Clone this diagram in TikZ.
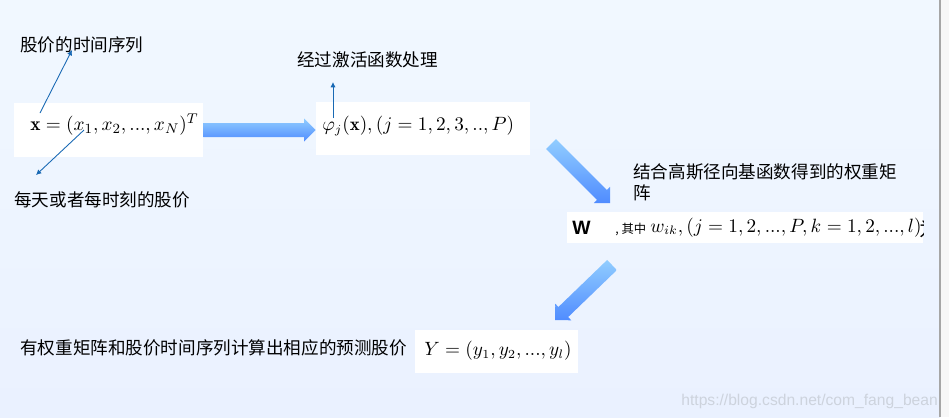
\documentclass[tikz,border=0pt]{standalone}
\usepackage{fontspec}
\usepackage{amsmath}
\usepackage{tikz}
\usetikzlibrary{arrows.meta, positioning, calc}
\newfontfamily\cjk{Noto Sans CJK SC}
\newfontfamily\arialf{Liberation Sans}
\definecolor{bgtop}{RGB}{241,248,255}
\definecolor{bgbot}{RGB}{234,241,255}
\definecolor{fatlight}{RGB}{145,205,255}
\definecolor{fatdark}{RGB}{80,140,255}
\definecolor{ptrblue}{RGB}{25,105,180}
\definecolor{markgray}{RGB}{205,211,221}
\tikzset{
  formbox/.style={rectangle, fill=white, inner sep=0pt},
  cnlabel/.style={font=\cjk\fontsize{10}{12}\selectfont, inner sep=0pt,
    anchor=west, align=left},
  formula/.style={font=\fontsize{10.7}{13}\selectfont, inner sep=0pt, anchor=west},
  ptr/.style={-{Latex[length=3pt,width=3pt]}, color=ptrblue, line width=0.5pt},
  fatshade/.style={top color=fatlight, bottom color=fatdark}
}
\newcommand{\fatarrow}[2]{% from, to
  \coordinate (fa-n) at ($(#2)!0.23cm!(#1)$);
  \shade[fatshade]
    ($(#1)!0.14cm!90:(#2)$) -- ($(fa-n)!0.14cm!90:(#2)$) -- ($(fa-n)!0.23cm!90:(#2)$)
    -- (#2) -- ($(fa-n)!0.23cm!-90:(#2)$) -- ($(fa-n)!0.14cm!-90:(#2)$)
    -- ($(#1)!0.14cm!-90:(#2)$) -- cycle;
}

\begin{document}
\begin{tikzpicture}[x=0.02cm, y=-0.02cm]
  \useasboundingbox (0,0) rectangle (949,417);
  % background
  \shade[top color=bgtop, bottom color=bgbot] (0,0) rectangle (940,417);
  \fill[gray!6] (940,0) rectangle (949,417);
  \draw[gray!70, line width=0.6pt] (940,0) -- (940,417);

  % formula boxes
  \node[formbox, minimum width=3.78cm, minimum height=1.08cm] (seq) at (108.5,130) {};
  \node[formula, font=\fontsize{11}{13}\selectfont] (seqf) at (30,125) {$\mathbf{x}=(x_1,x_2,...,x_N)^T$};
  \node[formbox, minimum width=4.28cm, minimum height=1.06cm] (act) at (423,128.5) {};
  \node[formula] (actf) at (322,126) {$\varphi_j(\mathbf{x}),(j=1,2,3,..,P)$};
  \node[formbox, minimum width=7.12cm, minimum height=0.62cm] (wgt) at (745,227.5) {};
  \node[font=\arialf\bfseries\fontsize{11}{12}\selectfont, inner sep=0pt,
    anchor=west] (wsym) at (572,228) {W};
  \node[font=\cjk\fontsize{7}{8}\selectfont, inner sep=0pt,
    anchor=base west] (wnote) at (615,233) {, 其中};
  \node[formula, anchor=base west] (wgtf) at (650,232) {$w_{ik},(j=1,2,...,P,k=1,2,...,l)$};
  \begin{scope}
    \clip (wgt.south west) rectangle (wgt.north east);
    \node[font=\cjk\fontsize{11}{12}\selectfont, inner sep=0pt, anchor=west] (wcut) at (919,229) {为};
  \end{scope}
  \node[formbox, minimum width=3.26cm, minimum height=0.86cm] (out) at (496.5,351.5) {};
  \node[formula] (outf) at (424,351) {$Y=(y_1,y_2,...,y_l)$};

  % labels
  \node[cnlabel] (lseq) at (20,45) {股价的时间序列};
  \node[cnlabel] (lday) at (14,200) {每天或者每时刻的股价};
  \node[cnlabel] (lact) at (297,60) {经过激活函数处理};
  \node[cnlabel] (lwgt) at (633,182.5) {结合高斯径向基函数得到的权重矩\\阵};
  \node[cnlabel] (lout) at (20,348) {有权重矩阵和股价时间序列计算出相应的预测股价};

  % thin pointers
  \coordinate (xtail) at (40,113);
  \coordinate (xtip) at (72,50);
  \coordinate (dtail) at (84,130);
  \coordinate (dtip) at (36,175);
  \coordinate (atail) at (333,118);
  \coordinate (atip) at (333,82);
  \draw[ptr] (xtail) -- (xtip);
  \draw[ptr] (dtail) -- (dtip);
  \draw[ptr] (atail) -- (atip);

  % fat arrows
  \coordinate (fa1e) at (act.west |- seq.east);
  \coordinate (fa2s) at (551,144);
  \coordinate (fa2e) at (610,203);
  \coordinate (fa3s) at (612,265);
  \coordinate (fa3e) at (555,320);
  \fatarrow{seq.east}{fa1e}
  \fatarrow{fa2s}{fa2e}
  \fatarrow{fa3s}{fa3e}

  % watermark
  \begin{scope}
    \clip (0,0) rectangle (940,417);
    \node[font=\arialf\fontsize{8.9}{11}\selectfont, text=markgray, inner sep=0pt,
      anchor=west] (mark) at (681,401) {https://blog.csdn.net/com\_fang\_bean};
  \end{scope}
\end{tikzpicture}
\end{document}
